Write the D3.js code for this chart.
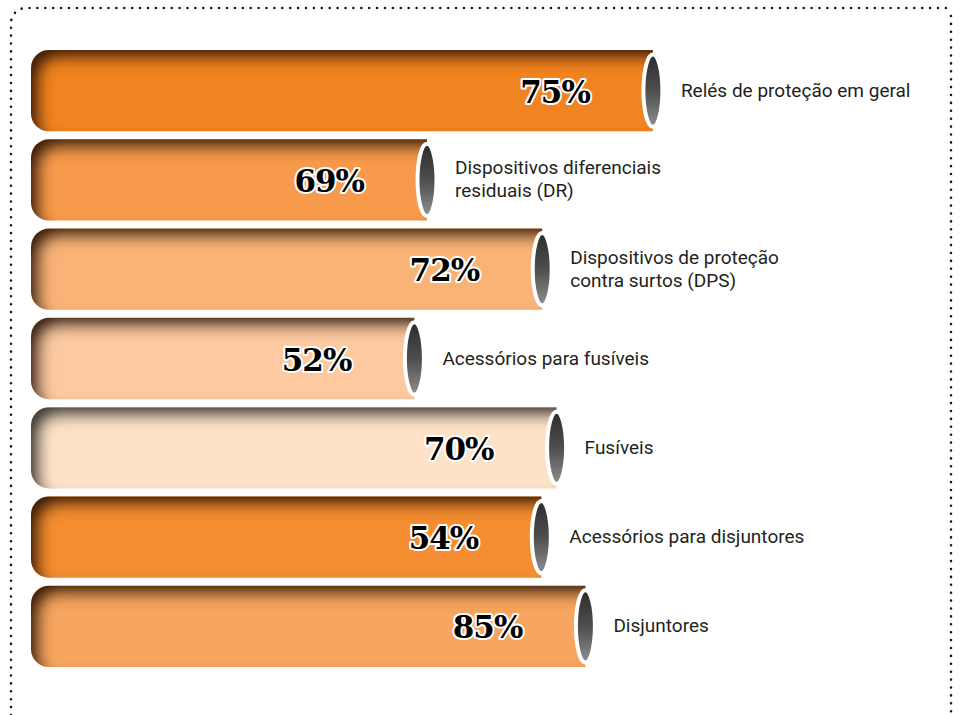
<!DOCTYPE html>
<html lang="pt">
<head>
<meta charset="UTF-8">
<title>Dispositivos de proteção</title>
<script src="https://cdnjs.cloudflare.com/ajax/libs/d3/7.8.5/d3.min.js"></script>
<style>
    body { margin: 0; background: #fff; }
    svg { display: block; }
    .pct {
        font-family: "DejaVu Serif", "Liberation Serif", serif;
        font-weight: bold;
        font-size: 31px;
        letter-spacing: -1px;
        fill: #000;
        stroke: #fff;
        stroke-width: 4px;
        paint-order: stroke;
        stroke-linejoin: round;
    }
    .cat {
        font-family: Roboto, "Noto Sans", sans-serif;
        font-size: 19px;
        fill: #231f20;
    }
</style>
</head>
<body>
<svg id="chart" width="960" height="715"></svg>
<script>
// categories (line breaks as in the original labels)
const categories = [
    'Relés de proteção em geral',
    'Dispositivos diferenciais\nresiduais (DR)',
    'Dispositivos de proteção\ncontra surtos (DPS)',
    'Acessórios para fusíveis',
    'Fusíveis',
    'Acessórios para disjuntores',
    'Disjuntores'
]
// printed values
const values = [75, 69, 72, 52, 70, 54, 85]
// drawn bar lengths (the original does not draw bars proportional to the printed values)
const barLength = [69.1, 44.0, 56.8, 42.6, 58.4, 56.7, 61.6]

const barColors = ['#f28322', '#f79a4b', '#f9b377', '#fcc9a0', '#fde2c8', '#f58d33', '#f7a55f']
const shadowKind = ['brown', 'brown', 'brown', 'brown', 'gray', 'brown', 'brown']

const svg = d3.select('#chart')
const x0 = 31

const xScale = d3.scaleLinear().domain([0, 100]).range([x0, 931])
const yScale = d3.scaleBand()
    .domain(categories)
    .range([50, 667])
    .paddingInner(0.09)
    .paddingOuter(0)

// dotted frame
const frame = d3.path()
frame.moveTo(11, 715)
frame.lineTo(11, 23)
frame.arcTo(11, 8, 26, 8, 15)
frame.lineTo(953, 8)
frame.moveTo(951, 16)
frame.lineTo(951, 715)
svg.append('path')
    .attr('d', frame.toString())
    .attr('fill', 'none')
    .attr('stroke', '#1a1a1a')
    .attr('stroke-width', 2.6)
    .attr('stroke-linecap', 'round')
    .attr('stroke-dasharray', '0 7.9')

const defs = svg.append('defs')

const addShadow = (id, color) => {
    const f = defs.append('filter').attr('id', id)
        .attr('x', '-20%').attr('y', '-60%').attr('width', '140%').attr('height', '220%')
    f.append('feFlood').attr('flood-color', color).attr('result', 'flood')
    f.append('feComposite').attr('in', 'flood').attr('in2', 'SourceAlpha').attr('operator', 'out').attr('result', 'outside')
    f.append('feGaussianBlur').attr('in', 'outside').attr('stdDeviation', 7).attr('result', 'blur')
    f.append('feOffset').attr('in', 'blur').attr('dx', 10).attr('dy', 10).attr('result', 'off')
    f.append('feComposite').attr('in', 'off').attr('in2', 'SourceAlpha').attr('operator', 'in').attr('result', 'shadow')
    const m = f.append('feMerge')
    m.append('feMergeNode').attr('in', 'SourceGraphic')
    m.append('feMergeNode').attr('in', 'shadow')
}
addShadow('shadow-brown', '#3a1f08')
addShadow('shadow-gray', '#3c3a38')

const capGrad = defs.append('linearGradient').attr('id', 'cap')
    .attr('x1', 0).attr('y1', 0).attr('x2', 0).attr('y2', 1)
capGrad.append('stop').attr('offset', '0%').attr('stop-color', '#2c2c2c')
capGrad.append('stop').attr('offset', '50%').attr('stop-color', '#4e4e4e')
capGrad.append('stop').attr('offset', '100%').attr('stop-color', '#8e8e8e')

// bar body: rounded on the left, square on the right
const bodyPath = (x, y, w, h, r) => {
    const p = d3.path()
    p.moveTo(x + r, y)
    p.lineTo(x + w, y)
    p.lineTo(x + w, y + h)
    p.lineTo(x + r, y + h)
    p.arcTo(x, y + h, x, y + h - r, r)
    p.lineTo(x, y + r)
    p.arcTo(x, y, x + r, y, r)
    p.closePath()
    return p.toString()
}

const rows = categories.map((c, i) => ({
    cat: c, value: values[i], len: barLength[i], color: barColors[i], shadow: shadowKind[i]
}))

const h = yScale.bandwidth()

const g = svg.selectAll('g.bar').data(rows).enter()
    .append('g').attr('class', 'bar')

g.append('path')
    .attr('d', d => bodyPath(x0, yScale(d.cat), xScale(d.len) - x0, h, 18))
    .attr('fill', d => d.color)
    .attr('filter', d => `url(#shadow-${d.shadow})`)

g.append('ellipse')
    .attr('cx', d => xScale(d.len))
    .attr('cy', d => yScale(d.cat) + h / 2)
    .attr('rx', 9.5)
    .attr('ry', h / 2 - 4.5)
    .attr('fill', 'url(#cap)')
    .attr('stroke', '#fff')
    .attr('stroke-width', 4)

g.append('text')
    .attr('class', 'pct')
    .attr('x', d => xScale(d.len) - 63)
    .attr('y', d => yScale(d.cat) + h / 2 + 12)
    .attr('text-anchor', 'end')
    .text(d => `${d.value}%`)

g.each(function (d) {
    const lines = d.cat.split('\n')
    const t = d3.select(this).append('text')
        .attr('class', 'cat')
        .attr('x', xScale(d.len) + 28)
        .attr('y', yScale(d.cat) + h / 2 + 6 - (lines.length - 1) * 11.5)
    lines.forEach((l, k) => {
        t.append('tspan')
            .attr('x', xScale(d.len) + 28)
            .attr('dy', k === 0 ? 0 : 23)
            .text(l)
    })
})
</script>
</body>
</html>
